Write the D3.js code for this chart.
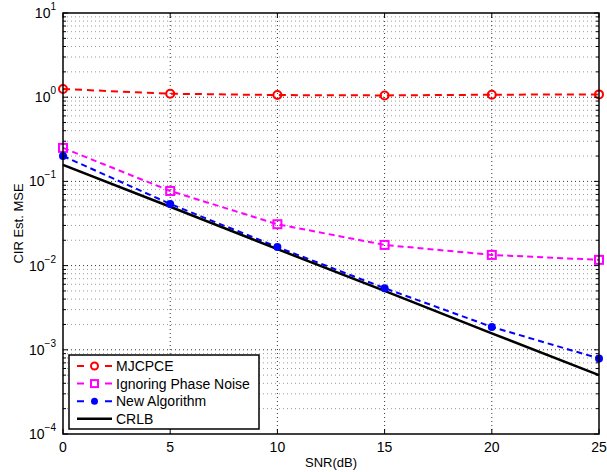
<!DOCTYPE html>
<html>
<head>
<meta charset="utf-8">
<script src="https://cdn.jsdelivr.net/npm/d3@7"></script>
<style>
  body { margin: 0; background: #fff; }
  text { font-family: "Liberation Sans", Arial, sans-serif; }
</style>
</head>
<body>
<svg id="chart" width="607" height="472"></svg>
<script>
const snr = [0, 5, 10, 15, 20, 25];
const mjcpce = [1.25, 1.1, 1.06, 1.05, 1.07, 1.08];
const ignoring = [0.25, 0.077, 0.031, 0.0176, 0.0134, 0.0117];
const newAlg = [0.20, 0.054, 0.0166, 0.0054, 0.00187, 0.00079];
const crlb = [0.157, 0.05, 0.0157, 0.005, 0.00157, 0.0005];
const xTicks = [0, 5, 10, 15, 20, 25];
const yExponents = [-4, -3, -2, -1, 0, 1];

const series = [
  { name: "MJCPCE", values: mjcpce, color: "#ff0000", dash: "7,5", marker: "circle" },
  { name: "Ignoring Phase Noise", values: ignoring, color: "#ff00ff", dash: "6,4", marker: "square" },
  { name: "New Algorithm", values: newAlg, color: "#0000ff", dash: "6,4", marker: "dot" },
  { name: "CRLB", values: crlb, color: "#000000", dash: null, marker: null }
];

const margin = { left: 63, right: 8, top: 13, bottom: 38 };
const width = 607, height = 472;
const iw = width - margin.left - margin.right;
const ih = height - margin.top - margin.bottom;

const svg = d3.select("#chart");
const g = svg.append("g").attr("transform", `translate(${margin.left},${margin.top})`);

const x = d3.scaleLinear().domain([0, 25]).range([0, iw]);
const y = d3.scaleLog().domain([1e-4, 1e1]).range([ih, 0]);

// grid: minor y
const minor = [];
yExponents.slice(0, -1).forEach((e) => {
  for (let k = 2; k <= 9; k++) minor.push(k * Math.pow(10, e));
});
g.append("g")
  .selectAll("line")
  .data(minor)
  .join("line")
  .attr("x1", 0).attr("x2", iw)
  .attr("y1", (d) => y(d)).attr("y2", (d) => y(d))
  .attr("stroke", "#999").attr("stroke-width", 1).attr("stroke-dasharray", "1,3");

// grid: major
g.append("g")
  .selectAll("line")
  .data(yExponents.slice(1, -1))
  .join("line")
  .attr("x1", 0).attr("x2", iw)
  .attr("y1", (d) => y(Math.pow(10, d))).attr("y2", (d) => y(Math.pow(10, d)))
  .attr("stroke", "#333").attr("stroke-width", 1).attr("stroke-dasharray", "1,3");

g.append("g")
  .selectAll("line")
  .data(xTicks.slice(1, -1))
  .join("line")
  .attr("x1", (d) => x(d)).attr("x2", (d) => x(d))
  .attr("y1", 0).attr("y2", ih)
  .attr("stroke", "#333").attr("stroke-width", 1).attr("stroke-dasharray", "1,3");

// lines
const line = d3.line()
  .x((d, i) => x(snr[i]))
  .y((d) => y(d));

series.forEach((s) => {
  g.append("path")
    .datum(s.values)
    .attr("fill", "none")
    .attr("stroke", s.color)
    .attr("stroke-width", s.dash ? 2 : 2.5)
    .attr("stroke-dasharray", s.dash)
    .attr("d", line);
});

function drawMarker(sel, type, color, cx, cy, sz) {
  if (type === "circle") {
    sel.append("circle").attr("cx", cx).attr("cy", cy).attr("r", sz)
      .attr("fill", "none").attr("stroke", color).attr("stroke-width", 2);
  } else if (type === "square") {
    sel.append("rect").attr("x", cx - sz).attr("y", cy - sz).attr("width", 2 * sz).attr("height", 2 * sz)
      .attr("fill", "none").attr("stroke", color).attr("stroke-width", 2);
  } else if (type === "dot") {
    sel.append("circle").attr("cx", cx).attr("cy", cy).attr("r", sz)
      .attr("fill", color);
  }
}

series.forEach((s) => {
  if (!s.marker) return;
  s.values.forEach((v, i) => drawMarker(g, s.marker, s.color, x(snr[i]), y(v), 4));
});

// box and ticks
g.append("rect").attr("width", iw).attr("height", ih)
  .attr("fill", "none").attr("stroke", "#000").attr("stroke-width", 1.5);

const tk = g.append("g").attr("stroke", "#000").attr("stroke-width", 1);
xTicks.forEach((t) => {
  tk.append("line").attr("x1", x(t)).attr("x2", x(t)).attr("y1", ih).attr("y2", ih - 5);
  tk.append("line").attr("x1", x(t)).attr("x2", x(t)).attr("y1", 0).attr("y2", 5);
});
yExponents.forEach((e) => {
  const yy = y(Math.pow(10, e));
  tk.append("line").attr("x1", 0).attr("x2", 5).attr("y1", yy).attr("y2", yy);
  tk.append("line").attr("x1", iw).attr("x2", iw - 5).attr("y1", yy).attr("y2", yy);
});
minor.forEach((m) => {
  tk.append("line").attr("x1", 0).attr("x2", 3).attr("y1", y(m)).attr("y2", y(m));
  tk.append("line").attr("x1", iw).attr("x2", iw - 3).attr("y1", y(m)).attr("y2", y(m));
});

// tick labels
g.append("g")
  .selectAll("text")
  .data(xTicks)
  .join("text")
  .attr("x", (d) => x(d)).attr("y", ih + 18)
  .attr("text-anchor", "middle").attr("font-size", 14)
  .text((d) => d);

const yl = g.append("g").selectAll("text")
  .data(yExponents)
  .join("text")
  .attr("x", -7).attr("y", (d) => y(Math.pow(10, d)) + 5)
  .attr("text-anchor", "end").attr("font-size", 14);
yl.append("tspan").text("10");
yl.append("tspan").attr("dy", -8).attr("font-size", 10).text((d) => (d < 0 ? "\u2212" + -d : d));

// axis titles
svg.append("text").attr("x", margin.left + iw / 2).attr("y", 467)
  .attr("text-anchor", "middle").attr("font-size", 13).text("SNR(dB)");
svg.append("text")
  .attr("transform", `translate(23,${margin.top + ih / 2}) rotate(-90)`)
  .attr("text-anchor", "middle").attr("font-size", 13).text("CIR Est. MSE");

// legend
const lg = svg.append("g").attr("transform", "translate(69,355)");
lg.append("rect").attr("width", 190).attr("height", 74)
  .attr("fill", "#fff").attr("stroke", "#000").attr("stroke-width", 1.5);
series.forEach((s, i) => {
  const ly = 11 + i * 17.6;
  lg.append("line").attr("x1", 8).attr("x2", 43).attr("y1", ly).attr("y2", ly)
    .attr("stroke", s.color).attr("stroke-width", s.dash ? 2 : 2.5)
    .attr("stroke-dasharray", s.dash ? "7,21" : null);
  drawMarker(lg, s.marker, s.color, 25.5, ly, 3.5);
  lg.append("text").attr("x", 47).attr("y", ly + 5).attr("font-size", 14).text(s.name);
});
</script>
</body>
</html>
